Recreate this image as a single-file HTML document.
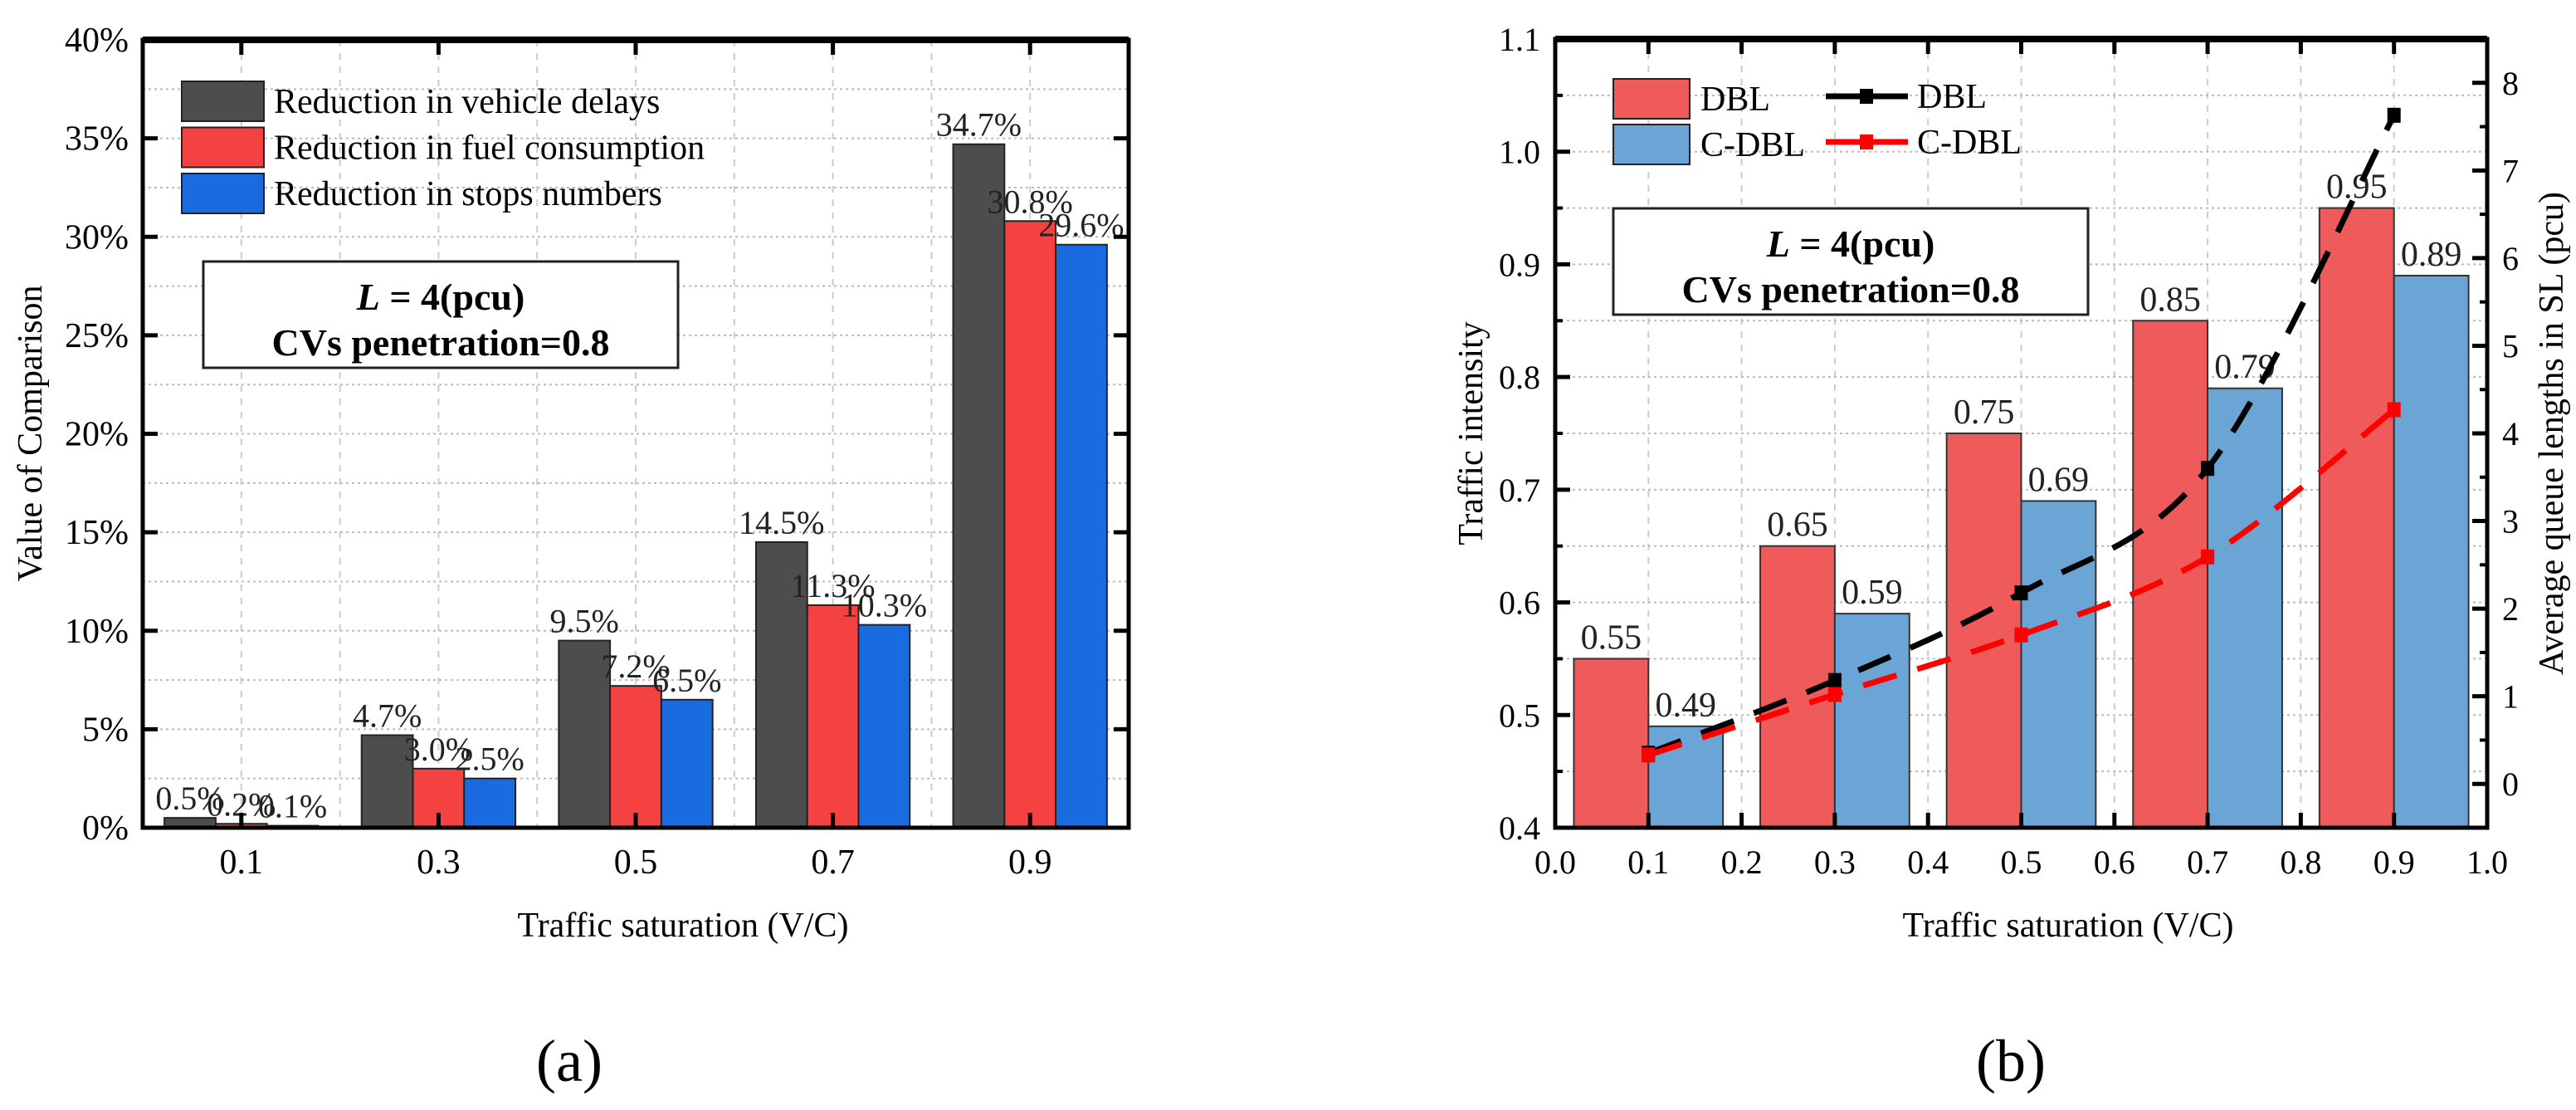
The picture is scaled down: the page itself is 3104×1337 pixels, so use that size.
<!DOCTYPE html>
<html><head><meta charset="utf-8"><style>
html,body{margin:0;padding:0;background:#fff;}
svg{display:block;font-family:"Liberation Serif",serif;}
</style></head><body>
<svg id="fig" width="3104" height="1337" viewBox="0 0 3104 1337" xmlns="http://www.w3.org/2000/svg"></svg>
<script>
// ---- chart (a) data ----
const aCategories = [0.1, 0.3, 0.5, 0.7, 0.9];
const aDelays = [0.5, 4.7, 9.5, 14.5, 34.7];
const aFuel = [0.2, 3.0, 7.2, 11.3, 30.8];
const aStops = [0.1, 2.5, 6.5, 10.3, 29.6];
const aYTicks = [0, 5, 10, 15, 20, 25, 30, 35, 40];
const aSeriesNames = ["Reduction in vehicle delays", "Reduction in fuel consumption", "Reduction in stops numbers"];
// ---- chart (b) data ----
const bCategories = [0.1, 0.3, 0.5, 0.7, 0.9];
const bDBL = [0.55, 0.65, 0.75, 0.85, 0.95];
const bCDBL = [0.49, 0.59, 0.69, 0.79, 0.89];
const bLineDBL = [0.35, 1.18, 2.18, 3.6, 7.63];
const bLineCDBL = [0.33, 1.02, 1.70, 2.59, 4.27];
const bXTicks = [0.0, 0.1, 0.2, 0.3, 0.4, 0.5, 0.6, 0.7, 0.8, 0.9, 1.0];
const bYTicks = [0.4, 0.5, 0.6, 0.7, 0.8, 0.9, 1.0, 1.1];
const bY2Ticks = [0, 1, 2, 3, 4, 5, 6, 7, 8];

const svg = document.getElementById('fig');
const NS = 'http://www.w3.org/2000/svg';
function mk(tag, attrs, parent, text) {
  const e = document.createElementNS(NS, tag);
  for (const k in attrs) e.setAttribute(k, attrs[k]);
  if (text !== undefined) e.textContent = text;
  (parent || svg).appendChild(e);
  return e;
}

// ================= Chart (a) =================
const A = {l:172, r:1360, t:48, b:997};
const ax = v => A.l + v * (A.r - A.l);
const ay = v => A.b - v / 40 * (A.b - A.t);
const gA = mk('g', {});  
for (let i = 1; i < 10; i++) {
  const l = mk('line', {x1: ax(i/10), x2: ax(i/10), y1: A.t, y2: A.b, stroke: '#ccc', 'stroke-width': 2, 'stroke-dasharray': '8 8'}, gA);
   
}
for (let v = 2.5; v < 40; v += 2.5) {
  const l = mk('line', {x1: A.l, x2: A.r, y1: ay(v), y2: ay(v), stroke: '#bbb', 'stroke-width': 2, 'stroke-dasharray': '3 4'}, gA);
   
}
const aColors = ['#4d4d4d', '#f44242', '#1a6be0'];
const aSeries = [aDelays, aFuel, aStops];
const bwA = 0.052;
aSeries.forEach((s, si) => {
  s.forEach((v, i) => {
    const x0 = ax(aCategories[i] + (si - 1.5) * bwA);
    const r = mk('rect', {x: x0, y: ay(v), width: ax(bwA) - A.l, height: A.b - ay(v), fill: aColors[si], stroke: '#222', 'stroke-width': 2}, gA);
     
    const t = mk('text', {x: x0 + (ax(bwA) - A.l) / 2, y: ay(v) - 10, 'font-size': 40, 'text-anchor': 'middle', fill: '#222'}, gA, v.toFixed(1) + '%');
     
  });
});
const fA = mk('rect', {x: A.l, y: A.t, width: A.r - A.l, height: A.b - A.t, fill: 'none', stroke: '#000', 'stroke-width': 5}, gA);
 
mk('line', {x1: A.l, x2: A.r, y1: A.t, y2: A.t, stroke: '#000', 'stroke-width': 8}, gA);
aYTicks.forEach(v => {
  mk('line', {x1: A.l, x2: A.l + 18, y1: ay(v), y2: ay(v), stroke: '#000', 'stroke-width': 5}, gA);
  mk('line', {x1: A.r, x2: A.r - 18, y1: ay(v), y2: ay(v), stroke: '#000', 'stroke-width': 5}, gA);
  const t = mk('text', {x: 155, y: ay(v) + 14, 'font-size': 42, 'text-anchor': 'end'}, gA, v + '%');
   
});
aCategories.forEach(c => {
  mk('line', {x1: ax(c), x2: ax(c), y1: A.b, y2: A.b - 18, stroke: '#000', 'stroke-width': 5}, gA);
  mk('line', {x1: ax(c), x2: ax(c), y1: A.t, y2: A.t + 18, stroke: '#000', 'stroke-width': 5}, gA);
  const t = mk('text', {x: ax(c), y: 1052, 'font-size': 42, 'text-anchor': 'middle'}, gA, c.toFixed(1));
   
});
let t;
t = mk('text', {x: 823, y: 1128, 'font-size': 42, 'text-anchor': 'middle'}, gA, 'Traffic saturation (V/C)');
 
t = mk('text', {x: 0, y: 0, 'font-size': 42, 'text-anchor': 'middle', transform: 'translate(50,522) rotate(-90)'}, gA, 'Value of Comparison');
 
t = mk('text', {x: 686, y: 1302, 'font-size': 72, 'text-anchor': 'middle'}, gA, '(a)');
 
aSeriesNames.forEach((n, i) => {
  const y0 = 98 + i * 55.5;
  const r = mk('rect', {x: 219, y: y0, width: 99, height: 48, fill: aColors[i], stroke: '#222', 'stroke-width': 2}, gA);
   
  const tt = mk('text', {x: 330, y: y0 + 38, 'font-size': 42}, gA, n);
   
});
const nA = mk('rect', {x: 245, y: 315, width: 572, height: 128, fill: '#fff', stroke: '#222', 'stroke-width': 3}, gA);
 
t = mk('text', {x: 531, y: 373, 'font-size': 46, 'font-weight': 'bold', 'text-anchor': 'middle'}, gA);
t.innerHTML = '<tspan font-style="italic">L</tspan> = 4(pcu)';
 
t = mk('text', {x: 531, y: 428, 'font-size': 46, 'font-weight': 'bold', 'text-anchor': 'middle'}, gA, 'CVs penetration=0.8');
 

// ================= Chart (b) =================
const B = {l:1874, r:2997, t:47, b:997};
const bx = v => B.l + v * (B.r - B.l);
const by = v => B.b - (v - 0.4) / 0.7 * (B.b - B.t);
const by2 = v => B.b - (v + 0.5) / 9 * (B.b - B.t);
const gB = mk('g', {});  
for (let i = 1; i < 10; i++) {
  const l = mk('line', {x1: bx(i/10), x2: bx(i/10), y1: B.t, y2: B.b, stroke: '#ccc', 'stroke-width': 2, 'stroke-dasharray': '8 8'}, gB);
   
}
for (let v = 0.45; v < 1.1; v += 0.05) {
  const l = mk('line', {x1: B.l, x2: B.r, y1: by(v), y2: by(v), stroke: '#bbb', 'stroke-width': 2, 'stroke-dasharray': '3 4'}, gB);
   
}
const bw = 0.08;
[[bDBL, '#ef5b5b', -1], [bCDBL, '#6aa5d6', 0]].forEach(([s, col, off], si) => {
  s.forEach((v, i) => {
    const x0 = bx(bCategories[i] + off * bw);
    const w = bx(bw) - B.l;
    const r = mk('rect', {x: x0, y: by(v), width: w, height: B.b - by(v), fill: col, stroke: '#333', 'stroke-width': 2}, gB);
     
    const tt = mk('text', {x: x0 + w / 2, y: by(v) - 12, 'font-size': 42, 'text-anchor': 'middle', fill: '#222'}, gB, v.toFixed(2));
     
  });
});
function smooth(pts) {
  let d = 'M' + pts[0][0] + ',' + pts[0][1];
  for (let i = 0; i < pts.length - 1; i++) {
    const p0 = pts[i - 1] || pts[i], p1 = pts[i], p2 = pts[i + 1], p3 = pts[i + 2] || p2;
    const c1 = [p1[0] + (p2[0] - p0[0]) / 6, p1[1] + (p2[1] - p0[1]) / 6];
    const c2 = [p2[0] - (p3[0] - p1[0]) / 6, p2[1] - (p3[1] - p1[1]) / 6];
    d += ' C' + c1 + ' ' + c2 + ' ' + p2;
  }
  return d;
}
[[bLineDBL, '#000', 'line-dbl'], [bLineCDBL, '#f00', 'line-cdbl']].forEach(([s, col, nm]) => {
  const pts = s.map((v, i) => [bx(bCategories[i]), by2(v)]);
  const p = mk('path', {d: smooth(pts), fill: 'none', stroke: col, 'stroke-width': 7, 'stroke-dasharray': '42 26'}, gB);
   
  pts.forEach(pt => {
    const m = mk('rect', {x: pt[0] - 8, y: pt[1] - 9, width: 16, height: 18, fill: col}, gB);
     
  });
});
const fB = mk('rect', {x: B.l, y: B.t, width: B.r - B.l, height: B.b - B.t, fill: 'none', stroke: '#000', 'stroke-width': 5}, gB);
 
mk('line', {x1: B.l, x2: B.r, y1: B.t, y2: B.t, stroke: '#000', 'stroke-width': 8}, gB);
bXTicks.forEach(v => {
  mk('line', {x1: bx(v), x2: bx(v), y1: B.b, y2: B.b - 18, stroke: '#000', 'stroke-width': 5}, gB);
  mk('line', {x1: bx(v), x2: bx(v), y1: B.t, y2: B.t + 18, stroke: '#000', 'stroke-width': 5}, gB);
  const tt = mk('text', {x: bx(v), y: 1052, 'font-size': 40, 'text-anchor': 'middle'}, gB, v.toFixed(1));
   
});
bYTicks.forEach(v => {
  mk('line', {x1: B.l, x2: B.l + 18, y1: by(v), y2: by(v), stroke: '#000', 'stroke-width': 5}, gB);
  const tt = mk('text', {x: 1856, y: by(v) + 14, 'font-size': 40, 'text-anchor': 'end'}, gB, v.toFixed(1));
   
});
for (let v = 0.45; v < 1.1; v += 0.1) mk('line', {x1: B.l, x2: B.l + 9, y1: by(v), y2: by(v), stroke: '#000', 'stroke-width': 4}, gB);
bY2Ticks.forEach(v => {
  mk('line', {x1: B.r, x2: B.r - 18, y1: by2(v), y2: by2(v), stroke: '#000', 'stroke-width': 5}, gB);
  mk('line', {x1: B.r, x2: B.r - 9, y1: by2(v + 0.5), y2: by2(v + 0.5), stroke: '#000', 'stroke-width': 4}, gB);
  const tt = mk('text', {x: 3015, y: by2(v) + 14, 'font-size': 40, 'text-anchor': 'start'}, gB, String(v));
   
});
t = mk('text', {x: 2492, y: 1128, 'font-size': 42, 'text-anchor': 'middle'}, gB, 'Traffic saturation  (V/C)');
 
t = mk('text', {x: 0, y: 0, 'font-size': 42, 'text-anchor': 'middle', transform: 'translate(1786,522) rotate(-90)'}, gB, 'Traffic intensity');
 
t = mk('text', {x: 0, y: 0, 'font-size': 42, 'text-anchor': 'middle', transform: 'translate(3088,522) rotate(-90)'}, gB, 'Average queue lengths in SL (pcu)');
 
t = mk('text', {x: 2423, y: 1302, 'font-size': 72, 'text-anchor': 'middle'}, gB, '(b)');
 
[['DBL', '#ef5b5b'], ['C-DBL', '#6aa5d6']].forEach(([n, c], i) => {
  const y0 = 95 + i * 55;
  const r = mk('rect', {x: 1944, y: y0, width: 92, height: 48, fill: c, stroke: '#222', 'stroke-width': 2}, gB);
   
  const tt = mk('text', {x: 2049, y: y0 + 38, 'font-size': 42}, gB, n);
   
});
[['DBL', '#000'], ['C-DBL', '#f00']].forEach(([n, c], i) => {
  const yc = 116 + i * 55;
  mk('line', {x1: 2200, x2: 2299, y1: yc, y2: yc, stroke: c, 'stroke-width': 7}, gB);
  mk('rect', {x: 2241, y: yc - 9, width: 16, height: 18, fill: c}, gB);
  const tt = mk('text', {x: 2310, y: yc + 14, 'font-size': 42}, gB, n);
   
});
const nB = mk('rect', {x: 1944, y: 251, width: 572, height: 128, fill: '#fff', stroke: '#222', 'stroke-width': 3}, gB);
 
t = mk('text', {x: 2230, y: 309, 'font-size': 46, 'font-weight': 'bold', 'text-anchor': 'middle'}, gB);
t.innerHTML = '<tspan font-style="italic">L</tspan> = 4(pcu)';
 
t = mk('text', {x: 2230, y: 364, 'font-size': 46, 'font-weight': 'bold', 'text-anchor': 'middle'}, gB, 'CVs penetration=0.8');
 
</script>
</body></html>
